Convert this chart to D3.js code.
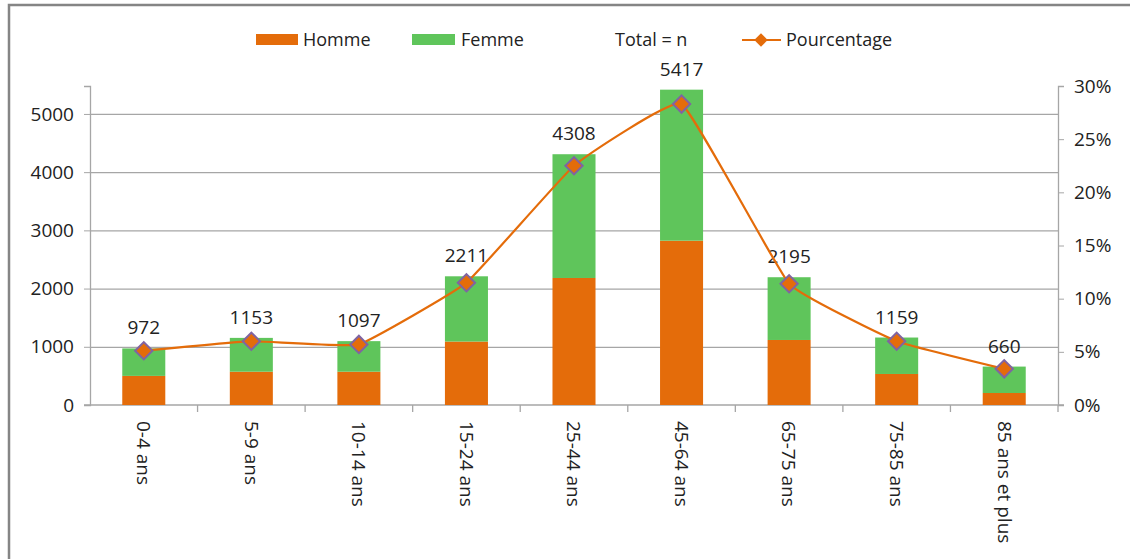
<!DOCTYPE html>
<html>
<head>
<meta charset="utf-8">
<script src="https://cdn.jsdelivr.net/npm/d3@7"></script>
<style>
  html, body { margin: 0; padding: 0; background: #fff; }
  svg { display: block; }
</style>
</head>
<body>
<div id="chart"></div>
<script>
const categories = ['0-4 ans', '5-9 ans', '10-14 ans', '15-24 ans', '25-44 ans', '45-64 ans', '65-75 ans', '75-85 ans', '85 ans et plus'];
const homme = [500, 572, 572, 1090, 2182, 2823, 1117, 533, 206];
const totals = [972, 1153, 1097, 2211, 4308, 5417, 2195, 1159, 660];
const pourcentage = [5.1, 6.0, 5.7, 11.5, 22.5, 28.3, 11.4, 6.0, 3.4];
const leftTicks = [0, 1000, 2000, 3000, 4000, 5000];
const rightTicks = [0, 5, 10, 15, 20, 25, 30];

const width = 1130, height = 559;
const margin = { top: 86, right: 72, bottom: 154, left: 90 };
const innerW = width - margin.left - margin.right;
const innerH = height - margin.top - margin.bottom;

const hommeColor = '#E46C0A';
const femmeColor = '#5FC55B';
const lineColor = '#E46C0A';
const markerStroke = '#8064A2';
const axisColor = '#A6A6A6';
const font = "'Open Sans', 'DejaVu Sans', sans-serif";
const fs = '19px';

const data = categories.map((c, i) => ({
  cat: c, homme: homme[i], femme: totals[i] - homme[i], total: totals[i], pct: pourcentage[i]
}));

const svgRoot = d3.select('#chart').append('svg')
  .attr('width', width).attr('height', height)
  .style('font-family', font);

// outer frame (left + top visible)
svgRoot.append('path')
  .attr('d', `M9,${height} V5 H${width}`)
  .attr('fill', 'none').attr('stroke', '#858585').attr('stroke-width', 2.5);

const svg = svgRoot.append('g').attr('transform', `translate(${margin.left},${margin.top})`);

const x = d3.scaleBand().domain(categories).range([0, innerW]).paddingInner(0.6).paddingOuter(0.3);
const xBand = d3.scaleBand().domain(categories).range([0, innerW]);
const y = d3.scaleLinear().domain([0, 5480]).range([innerH, 0]);
const y2 = d3.scaleLinear().domain([0, 30]).range([innerH, 0]);

// gridlines
svg.append('g')
  .call(d3.axisLeft(y).tickValues(leftTicks.slice(1)).tickSize(-innerW).tickFormat(''))
  .call(g => g.select('.domain').remove())
  .call(g => g.selectAll('.tick line').attr('stroke', axisColor).attr('stroke-width', 1.3));

// left axis
svg.append('g')
  .call(d3.axisLeft(y).tickValues(leftTicks).tickSize(6).tickPadding(10).tickFormat(d3.format('d')))
  .call(g => g.select('.domain').attr('stroke', axisColor).attr('stroke-width', 1.3))
  .call(g => g.selectAll('.tick line').attr('stroke', axisColor))
  .call(g => g.selectAll('.tick text').attr('fill', '#222').attr('font-size', fs).attr('font-family', font));

// right axis
svg.append('g')
  .attr('transform', `translate(${innerW},0)`)
  .call(d3.axisRight(y2).tickValues(rightTicks).tickSize(6).tickPadding(10).tickFormat(d => d + '%'))
  .call(g => g.select('.domain').attr('stroke', axisColor).attr('stroke-width', 1.3))
  .call(g => g.selectAll('.tick line').attr('stroke', axisColor))
  .call(g => g.selectAll('.tick text').attr('fill', '#222').attr('font-size', fs).attr('font-family', font));

// bottom axis (ticks between categories)
const xAxisG = svg.append('g').attr('transform', `translate(0,${innerH})`);
xAxisG.append('line')
  .attr('x1', -6).attr('x2', innerW + 6)
  .attr('stroke', axisColor).attr('stroke-width', 1.3);
xAxisG.selectAll('line.sep')
  .data(categories)
  .join('line')
  .attr('class', 'sep')
  .attr('x1', d => xBand(d) + xBand.bandwidth()).attr('x2', d => xBand(d) + xBand.bandwidth())
  .attr('y1', 0).attr('y2', 7)
  .attr('stroke', axisColor).attr('stroke-width', 1.3);
xAxisG.selectAll('text')
  .data(categories)
  .join('text')
  .attr('transform', d => `translate(${xBand(d) + xBand.bandwidth() / 2},16) rotate(90)`)
  .attr('dy', '0.35em')
  .attr('text-anchor', 'start')
  .attr('font-size', fs)
  .attr('fill', '#222')
  .text(d => d);

// stacked bars
svg.selectAll('rect.homme')
  .data(data).join('rect')
  .attr('class', 'homme')
  .attr('x', d => x(d.cat)).attr('width', x.bandwidth())
  .attr('y', d => y(d.homme)).attr('height', d => innerH - y(d.homme))
  .attr('fill', hommeColor);

svg.selectAll('rect.femme')
  .data(data).join('rect')
  .attr('class', 'femme')
  .attr('x', d => x(d.cat)).attr('width', x.bandwidth())
  .attr('y', d => y(d.total)).attr('height', d => y(d.homme) - y(d.total))
  .attr('fill', femmeColor);

// total labels
svg.selectAll('text.total')
  .data(data).join('text')
  .attr('class', 'total')
  .attr('x', d => x(d.cat) + x.bandwidth() / 2)
  .attr('y', d => y(d.total) - 14)
  .attr('text-anchor', 'middle')
  .attr('font-size', fs)
  .attr('fill', '#222')
  .text(d => d.total);

// percentage line
const cx = d => xBand(d.cat) + xBand.bandwidth() / 2;
const line = d3.line().x(cx).y(d => y2(d.pct)).curve(d3.curveCardinal.tension(0.7));
svg.append('path')
  .datum(data)
  .attr('fill', 'none')
  .attr('stroke', lineColor)
  .attr('stroke-width', 2.2)
  .attr('d', line);

const diamond = d3.symbol().type(d3.symbolSquare).size(150);
svg.selectAll('path.marker')
  .data(data).join('path')
  .attr('class', 'marker')
  .attr('transform', d => `translate(${cx(d)},${y2(d.pct)}) rotate(45)`)
  .attr('d', diamond)
  .attr('fill', lineColor)
  .attr('stroke', markerStroke)
  .attr('stroke-width', 2);

// legend
const legend = svgRoot.append('g').attr('font-size', '18px').attr('fill', '#222');
const legY = 40;
legend.append('rect').attr('x', 256).attr('y', legY - 6).attr('width', 42).attr('height', 11).attr('fill', hommeColor);
legend.append('text').attr('x', 303).attr('y', legY).attr('dy', '0.35em').text('Homme');
legend.append('rect').attr('x', 412).attr('y', legY - 6).attr('width', 43).attr('height', 11).attr('fill', femmeColor);
legend.append('text').attr('x', 461).attr('y', legY).attr('dy', '0.35em').text('Femme');
legend.append('text').attr('x', 615).attr('y', legY).attr('dy', '0.35em').text('Total = n');
legend.append('line').attr('x1', 742).attr('x2', 781).attr('y1', legY).attr('y2', legY)
  .attr('stroke', lineColor).attr('stroke-width', 2.2);
legend.append('path')
  .attr('transform', `translate(761,${legY}) rotate(45)`)
  .attr('d', d3.symbol().type(d3.symbolSquare).size(90))
  .attr('fill', lineColor);
legend.append('text').attr('x', 786).attr('y', legY).attr('dy', '0.35em').text('Pourcentage');
</script>
</body>
</html>
